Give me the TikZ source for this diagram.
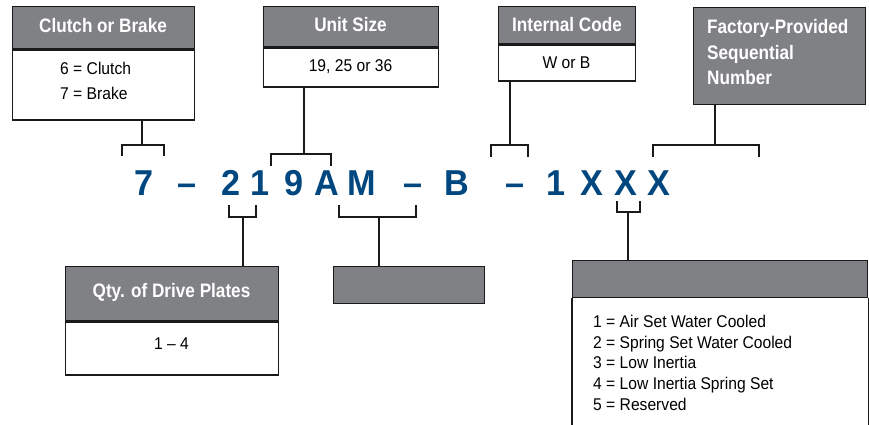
\documentclass[tikz,border=0pt]{standalone}
\usepackage{fontspec}
\setmainfont{Liberation Sans}
\newfontfamily\hdrfont{Liberation Sans Bold}[FakeStretch=0.88]
\newfontfamily\bodyfont{Liberation Sans}[FakeStretch=0.92]
\newfontfamily\codefont{Liberation Sans Bold}[FakeStretch=0.95]
\definecolor{hdrgray}{HTML}{808185}
\definecolor{codeblue}{HTML}{00467F}
\definecolor{linecol}{HTML}{1A1A1A}
\tikzset{
  hdr/.style={draw=linecol, line width=1.4pt, fill=hdrgray, inner sep=0pt},
  hdrtxt/.style={inner sep=0pt, text=white, font=\hdrfont\fontsize{19.5}{25}\selectfont},
  bodybox/.style={draw=linecol, line width=1.4pt, fill=white, inner sep=0pt},
  bodytxt/.style={inner sep=0pt, font=\bodyfont\fontsize{17}{21}\selectfont, text=black},
  codech/.style={anchor=base, inner sep=0pt, text=codeblue, font=\codefont\fontsize{36}{40}\selectfont},
  brk/.style={draw=linecol, line width=2.5pt, line join=miter, line cap=butt},
}
\begin{document}
\begin{tikzpicture}[x=1pt,y=-1pt]
\useasboundingbox (0,0) rectangle (869,425);

% ---------- top boxes ----------
\node[hdr, minimum width=182pt, minimum height=42pt, anchor=north west] (cbh) at (12,6) {};
\node[hdrtxt, anchor=base] (cbht) at (103,33) {Clutch or Brake};
\node[bodybox, minimum width=182pt, minimum height=70pt, anchor=north] (cbb) at (cbh.south) {};
\node[bodytxt, anchor=base west] (cbt1) at (60,75) {6 = Clutch};
\node[bodytxt, anchor=base west] (cbt2) at (60,100) {7 = Brake};

\node[hdr, minimum width=175pt, minimum height=40pt, anchor=north west] (ush) at (263,6) {};
\node[hdrtxt, anchor=base] (usht) at (350.5,32) {Unit Size};
\node[bodybox, minimum width=175pt, minimum height=39pt, anchor=north] (usb) at (ush.south) {};
\node[bodytxt, anchor=base] (ust) at (350.5,71.5) {19, 25 or 36};

\node[hdr, minimum width=137pt, minimum height=37pt, anchor=north west] (ich) at (498,6) {};
\node[hdrtxt, anchor=base] (icht) at (567,31.5) {Internal Code};
\node[bodybox, minimum width=137pt, minimum height=36pt, anchor=north] (icb) at (ich.south) {};
\node[bodytxt, anchor=base] (ict) at (566.5,69) {W or B};

\node[hdr, minimum width=172pt, minimum height=97pt, anchor=north west] (fph) at (693,7) {};
\node[hdrtxt, anchor=base west] (fpt1) at (707,34) {Factory-Provided};
\node[hdrtxt, anchor=base west] (fpt2) at (707,59.5) {Sequential};
\node[hdrtxt, anchor=base west] (fpt3) at (707,85) {Number};

% ---------- code line ----------
\node[codech] (k1) at (144,195) {7};
\node[codech] (k2) at (187.5,195) {–};
\node[codech] (k3) at (231,195) {2};
\node[codech] (k4) at (260,195) {1};
\node[codech] (k5) at (294,195) {9};
\node[codech] (k6) at (327,195) {A};
\node[codech] (k7) at (362,195) {M};
\node[codech] (k8) at (413,195) {–};
\node[codech] (k9) at (457,195) {B};
\node[codech] (k10) at (515,195) {–};
\node[codech] (k11) at (556,195) {1};
\node[codech] (k12) at (592,195) {X};
\node[codech] (k13) at (626,195) {X};
\node[codech] (k14) at (659,195) {X};

% ---------- top brackets ----------
\coordinate (t1l) at (122,156); \coordinate (t1r) at (164,156); \coordinate (t1m) at (142,145);
\draw[brk] (t1l) -- (t1l |- t1m) -- (t1r |- t1m) -- (t1r);
\draw[brk] (cbb.south -| t1m) -- (t1m);

\coordinate (t2l) at (271,166); \coordinate (t2r) at (331,166); \coordinate (t2m) at (304,154);
\draw[brk] (t2l) -- (t2l |- t2m) -- (t2r |- t2m) -- (t2r);
\draw[brk] (usb.south -| t2m) -- (t2m);

\coordinate (t3l) at (491,157); \coordinate (t3r) at (528,157); \coordinate (t3m) at (510,145);
\draw[brk] (t3l) -- (t3l |- t3m) -- (t3r |- t3m) -- (t3r);
\draw[brk] (icb.south -| t3m) -- (t3m);

\coordinate (t4l) at (653,157); \coordinate (t4r) at (759,157); \coordinate (t4m) at (715,145);
\draw[brk] (t4l) -- (t4l |- t4m) -- (t4r |- t4m) -- (t4r);
\draw[brk] (fph.south -| t4m) -- (t4m);

% ---------- bottom boxes ----------
\node[hdr, minimum width=213pt, minimum height=54pt, anchor=north west] (qdh) at (65,266) {};
\node[hdrtxt, anchor=base] (qdht) at (171.5,297) {Qty. of Drive Plates};
\node[bodybox, minimum width=213pt, minimum height=53pt, anchor=north] (qdb) at (qdh.south) {};
\node[bodytxt, anchor=base] (qdt) at (171.5,349) {1 – 4};

\node[hdr, minimum width=151pt, minimum height=37pt, anchor=north west] (amh) at (333,266) {};

\node[hdr, minimum width=295pt, minimum height=37pt, anchor=north west] (rth) at (572,260) {};
\draw[draw=linecol, line width=1.4pt] (rth.south west) -- ++(0,140);
\draw[draw=linecol, line width=1.4pt] (rth.south east) -- ++(0,140);
\node[bodytxt, anchor=base west] (rt1) at (593,327) {1 = Air Set Water Cooled};
\node[bodytxt, anchor=base west] (rt2) at (593,348) {2 = Spring Set Water Cooled};
\node[bodytxt, anchor=base west] (rt3) at (593,368.5) {3 = Low Inertia};
\node[bodytxt, anchor=base west] (rt4) at (593,389) {4 = Low Inertia Spring Set};
\node[bodytxt, anchor=base west] (rt5) at (593,410) {5 = Reserved};

% ---------- bottom brackets ----------
\coordinate (b1l) at (229,205); \coordinate (b1r) at (256,205); \coordinate (b1m) at (243,217);
\draw[brk] (b1l) -- (b1l |- b1m) -- (b1r |- b1m) -- (b1r);
\draw[brk] (b1m) -- (qdh.north -| b1m);

\coordinate (b2l) at (339,205); \coordinate (b2r) at (416,205); \coordinate (b2m) at (379,217);
\draw[brk] (b2l) -- (b2l |- b2m) -- (b2r |- b2m) -- (b2r);
\draw[brk] (b2m) -- (amh.north -| b2m);

\coordinate (b3l) at (617,201); \coordinate (b3r) at (640,201); \coordinate (b3m) at (628,212);
\draw[brk] (b3l) -- (b3l |- b3m) -- (b3r |- b3m) -- (b3r);
\draw[brk] (b3m) -- (rth.north -| b3m);
\end{tikzpicture}
\end{document}
